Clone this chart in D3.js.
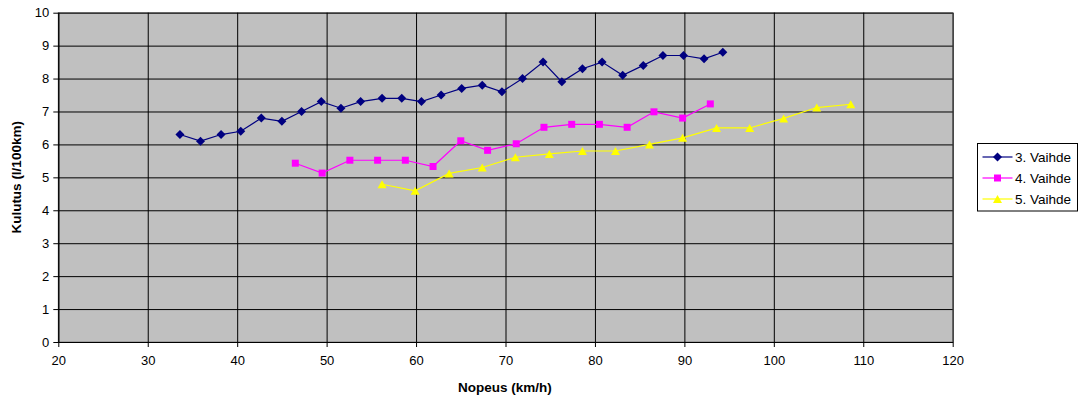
<!DOCTYPE html>
<html><head><meta charset="utf-8">
<script src="https://cdn.jsdelivr.net/npm/d3@7"></script>
<style>
body{margin:0;background:#fff;}
svg{display:block;font-family:"Liberation Sans",Arial,sans-serif;}
</style></head>
<body><svg id="c" width="1086" height="400"></svg>
<script>
const xTicks = [20,30,40,50,60,70,80,90,100,110,120];
const yTicks = [0,1,2,3,4,5,6,7,8,9,10];
const seriesNames = ["3. Vaihde","4. Vaihde","5. Vaihde"];
const s3x = [33.6,35.9,38.2,40.4,42.7,45.0,47.2,49.4,51.6,53.8,56.2,58.4,60.6,62.8,65.1,67.4,69.6,71.9,74.2,76.3,78.6,80.8,83.1,85.4,87.6,89.9,92.2,94.3];
const s3y = [6.3,6.1,6.3,6.4,6.8,6.7,7.0,7.3,7.1,7.3,7.4,7.4,7.3,7.5,7.7,7.8,7.6,8.0,8.5,7.9,8.3,8.5,8.1,8.4,8.7,8.7,8.6,8.8];
const s4x = [46.5,49.5,52.6,55.7,58.8,61.9,65.0,68.0,71.2,74.3,77.4,80.5,83.6,86.6,89.8,92.9];
const s4y = [5.43,5.13,5.52,5.52,5.52,5.33,6.11,5.82,6.02,6.52,6.61,6.61,6.52,6.99,6.80,7.23];
const s5x = [56.2,59.9,63.7,67.4,71.1,74.9,78.6,82.3,86.1,89.8,93.6,97.3,101.1,104.8,108.6];
const s5y = [4.79,4.59,5.12,5.30,5.61,5.71,5.80,5.80,6.00,6.20,6.50,6.50,6.79,7.12,7.22];
const colors = ["#000080","#FF00FF","#FFFF00"];

// marker shapes
const diamond = "M0,-4.5L4.5,0L0,4.5L-4.5,0Z";
const square = "M-3.5,-3.5H3.5V3.5H-3.5Z";
const triangle = "M0,-4L4.5,4H-4.5Z";
const shapes = [diamond, square, triangle];

const svg = d3.select("#c");
const L=58.3, R=952.7, T=12.7, B=342;
const x = d3.scaleLinear().domain([20,120]).range([L,R]);
const y = d3.scaleLinear().domain([0,10]).range([B,T]);

svg.append("rect").attr("x",L).attr("y",T).attr("width",R-L).attr("height",B-T)
  .attr("fill","#C0C0C0").attr("stroke","#808080").attr("stroke-width",1);

// gridlines
svg.append("g").attr("transform",`translate(0,${B})`)
  .call(d3.axisBottom(x).tickValues(xTicks).tickSize(-(B-T)).tickFormat(""))
  .call(g=>g.select(".domain").remove())
  .call(g=>g.selectAll("line").attr("stroke","#000"));
svg.append("g").attr("transform",`translate(${L},0)`)
  .call(d3.axisLeft(y).tickValues(yTicks).tickSize(-(R-L)).tickFormat(""))
  .call(g=>g.select(".domain").remove())
  .call(g=>g.selectAll("line").attr("stroke","#000"));

// axes
const xa = svg.append("g").attr("transform",`translate(0,${B})`)
  .call(d3.axisBottom(x).tickValues(xTicks).tickSize(5).tickSizeOuter(0).tickPadding(9));
xa.select(".domain").attr("stroke","#000");
xa.selectAll("text").attr("font-size",13).attr("fill","#000").attr("font-family","Liberation Sans, Arial, sans-serif");
const ya = svg.append("g").attr("transform",`translate(${L},0)`)
  .call(d3.axisLeft(y).tickValues(yTicks).tickSize(5).tickSizeOuter(0).tickPadding(4));
ya.select(".domain").attr("stroke","#000");
ya.selectAll("text").attr("font-size",13).attr("fill","#000").attr("font-family","Liberation Sans, Arial, sans-serif");

// series
const data = [[s3x,s3y],[s4x,s4y],[s5x,s5y]].map(([xs,ys])=>xs.map((v,i)=>[v,ys[i]]));
const line = d3.line().x(d=>x(d[0])).y(d=>y(d[1]));
data.forEach((pts,i)=>{
  svg.append("path").datum(pts).attr("d",line).attr("fill","none")
    .attr("stroke",colors[i]).attr("stroke-width",1.2);
  svg.append("g").selectAll("path").data(pts).join("path")
    .attr("transform",d=>`translate(${x(d[0])},${y(d[1])})`)
    .attr("d",shapes[i])
    .attr("fill",colors[i]);
});

// axis titles
svg.append("text").attr("x",505).attr("y",392).attr("text-anchor","middle")
  .attr("font-size",13.5).attr("font-weight","bold").text("Nopeus (km/h)");
svg.append("text").attr("transform",`translate(21,${(T+B)/2}) rotate(-90)`).attr("text-anchor","middle")
  .attr("font-size",13.5).attr("font-weight","bold").text("Kulutus (l/100km)");

// legend
const lg = svg.append("g");
lg.append("rect").attr("x",977.5).attr("y",143.5).attr("width",100).attr("height",67.5)
  .attr("fill","#fff").attr("stroke","#000").attr("stroke-width",1);
seriesNames.forEach((n,i)=>{
  const yy = 157 + i*21;
  lg.append("line").attr("x1",982.5).attr("x2",1012.5).attr("y1",yy).attr("y2",yy)
    .attr("stroke",colors[i]).attr("stroke-width",1.2);
  lg.append("path").attr("transform",`translate(997.5,${yy})`)
    .attr("d",shapes[i]).attr("fill",colors[i]);
  lg.append("text").attr("x",1015).attr("y",yy+5).attr("font-size",13.5).text(n);
});
</script></body></html>
